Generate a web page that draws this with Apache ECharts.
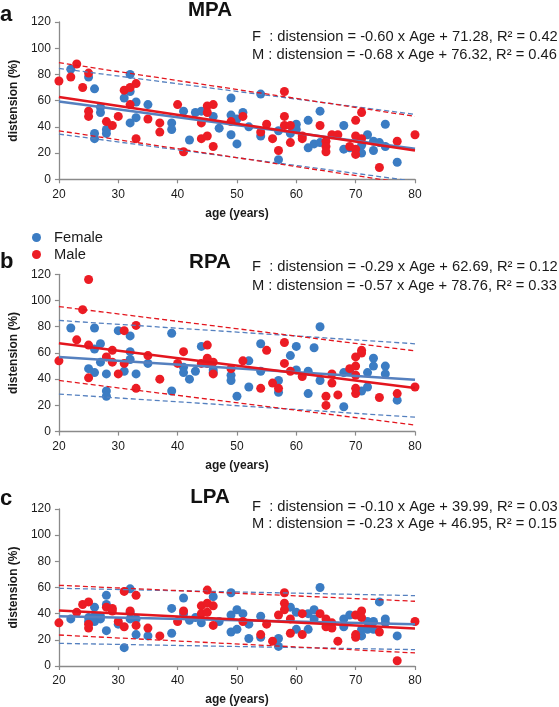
<!DOCTYPE html>
<html>
<head>
<meta charset="utf-8">
<script src="https://cdn.jsdelivr.net/npm/echarts@6/dist/echarts.min.js"></script>
<style>
html,body{margin:0;padding:0;background:#fff;}
#chart{width:559px;height:707px;}
</style>
</head>
<body>
<div id="chart"></div>
<script>
// ---------- DATA ----------
const fitAges = [20, 80];

const mpaFemale = [[22,84],[25,78],[26,69],[26,35],[26,31],[27,55],[27,51],[28,38],[28,35],[31,62],[32,80],[32,67],[32,43],[33,59],[33,47],[35,57],[39,43],[39,38],[41,52],[42,30],[43,51],[44,52],[46,48],[47,39],[49,62],[49,49],[49,34],[50,46],[50,27],[51,51],[52,40],[54,65],[54,33],[57,37],[57,15],[59,35],[60,42],[60,38],[62,45],[62,24],[63,27],[64,52],[64,28],[68,41],[68,23],[69,24],[71,26],[71,20],[72,34],[73,29],[73,22],[74,28],[75,42],[75,25],[77,13]];
const mpaMale = [[20,75],[22,78],[23,88],[24,70],[25,81],[25,52],[25,48],[28,44],[29,41],[30,48],[31,68],[32,70],[33,73],[32,57],[33,31],[35,46],[37,43],[37,36],[40,57],[41,21],[44,43],[44,31],[45,56],[45,51],[45,33],[46,57],[46,25],[49,44],[51,48],[54,36],[55,42],[56,31],[57,22],[58,67],[58,48],[58,41],[59,41],[59,28],[61,33],[61,31],[64,41],[65,29],[65,25],[65,21],[66,34],[67,34],[69,25],[70,45],[70,33],[70,23],[70,19],[71,51],[71,31],[74,9],[77,29],[80,34]];
const mpaFitF = [59.3, 23.3];
const mpaFitM = [62.7, 21.9];
const mpaUpperF = [84.6, 49.5];
const mpaLowerF = [34.5, -1.5];
const mpaUpperM = [89, 48];
const mpaLowerM = [37, -4];

const rpaFemale = [[22,79],[25,48],[26,79],[26,63],[26,45],[27,67],[27,53],[28,44],[28,31],[28,27],[30,77],[31,46],[32,73],[32,61],[32,55],[33,44],[35,52],[39,75],[39,31],[41,49],[41,45],[42,40],[43,46],[44,65],[46,47],[46,45],[49,43],[49,39],[50,27],[52,54],[52,34],[54,67],[54,46],[57,39],[57,30],[59,58],[60,65],[60,47],[62,46],[62,29],[63,64],[64,80],[64,39],[68,45],[68,19],[69,46],[71,31],[72,45],[72,34],[73,56],[73,50],[75,50],[75,44],[77,24]];
const rpaMale = [[20,54],[23,70],[24,93],[25,116],[25,66],[25,41],[28,57],[29,62],[29,53],[30,44],[31,77],[31,52],[33,81],[33,33],[35,58],[37,40],[40,52],[41,61],[44,52],[45,66],[45,56],[45,52],[46,53],[46,44],[49,48],[51,54],[54,33],[55,62],[56,37],[57,33],[58,68],[58,52],[59,46],[61,42],[65,27],[65,20],[66,44],[66,37],[67,28],[69,48],[70,57],[70,50],[70,43],[70,33],[70,29],[71,62],[71,60],[74,26],[77,29],[80,34]];
const rpaFitF = [56.9, 39.5];
const rpaFitM = [67.4, 33.2];
const rpaUpperF = [84.8, 67];
const rpaLowerF = [28.6, 11];
const rpaUpperM = [95.4, 61.6];
const rpaLowerM = [39, 5];

const lpaFemale = [[22,36],[25,37],[25,34],[26,38],[26,34],[26,45],[27,36],[27,38],[28,54],[28,47],[28,27],[30,32],[31,14],[32,59],[32,41],[32,36],[33,24],[33,36],[35,23],[39,44],[39,25],[41,52],[41,40],[42,35],[43,37],[44,33],[46,53],[47,34],[49,56],[49,39],[49,26],[50,43],[50,28],[51,40],[52,32],[52,21],[54,38],[54,22],[57,15],[57,21],[59,45],[60,41],[60,28],[62,40],[62,28],[63,43],[63,36],[64,60],[68,36],[68,30],[69,39],[71,28],[71,23],[72,34],[72,28],[73,34],[73,28],[74,49],[75,36],[75,33],[77,23]];
const lpaMale = [[20,33],[23,41],[24,47],[25,49],[25,32],[25,29],[28,45],[29,44],[29,42],[30,34],[31,57],[31,30],[32,42],[33,54],[33,31],[35,29],[37,23],[40,34],[41,42],[44,46],[44,40],[45,58],[45,48],[45,41],[46,46],[46,31],[51,34],[54,24],[55,32],[56,19],[57,39],[58,56],[58,48],[58,43],[59,36],[59,25],[61,40],[61,24],[64,40],[65,36],[65,30],[66,33],[66,29],[67,19],[70,39],[70,24],[70,22],[71,42],[71,37],[74,26],[77,4],[80,34]];
const lpaFitF = [38.0, 32.0];
const lpaFitM = [42.4, 28.6];
const lpaUpperF = [59.4, 53.8];
const lpaLowerF = [17.3, 12.5];
const lpaUpperM = [61.7, 49.5];
const lpaLowerM = [23.7, 10];

const panelLetters = ['a', 'b', 'c'];
const panelTitles = ['MPA', 'RPA', 'LPA'];
const eqF = [
  'F  : distension = -0.60 x Age + 71.28, R\u00B2 = 0.42',
  'F  : distension = -0.29 x Age + 62.69, R\u00B2 = 0.12',
  'F  : distension = -0.10 x Age + 39.99, R\u00B2 = 0.03'
];
const eqM = [
  'M : distension = -0.68 x Age + 76.32, R\u00B2 = 0.46',
  'M : distension = -0.57 x Age + 78.76, R\u00B2 = 0.33',
  'M : distension = -0.23 x Age + 46.95, R\u00B2 = 0.15'
];
const legendNames = ['Female', 'Male'];
const xAxisName = 'age (years)';
const yAxisName = 'distension (%)';

// ---------- LAYOUT / STYLE ----------
const FONT = "'Liberation Sans', Arial, Helvetica, sans-serif";
const BLUE = '#3b7cc3';
const RED = '#ec1c24';
const BLUE_LINE = '#5580bf';
const RED_LINE = '#e3161e';
const AXIS = '#8a8a8a';

const gridTops = [22, 274.3, 509];
const gridH = 157.3;
const titleY = [10, 262.5, 497.5];
const letterY = [15.5, 263, 500];
const eqY = [[36.7, 55], [267.3, 285.7], [506.7, 524.3]];

const panels = [
  {F: mpaFemale, M: mpaMale, fitF: mpaFitF, fitM: mpaFitM, uF: mpaUpperF, lF: mpaLowerF, uM: mpaUpperM, lM: mpaLowerM},
  {F: rpaFemale, M: rpaMale, fitF: rpaFitF, fitM: rpaFitM, uF: rpaUpperF, lF: rpaLowerF, uM: rpaUpperM, lM: rpaLowerM},
  {F: lpaFemale, M: lpaMale, fitF: lpaFitF, fitM: lpaFitM, uF: lpaUpperF, lF: lpaLowerF, uM: lpaUpperM, lM: lpaLowerM}
];

const grids = [], xAxes = [], yAxes = [], series = [], graphics = [];
const toPts = arr => fitAges.map((a, j) => [a, arr[j]]);

panels.forEach((p, i) => {
  grids.push({left: 53.3, top: gridTops[i], width: 361.7, height: gridH, containLabel: false});
  xAxes.push({
    type: 'value', gridIndex: i, min: 20, max: 80, interval: 10,
    axisLine: {show: true, onZero: false, lineStyle: {color: AXIS, width: 1.3}},
    axisTick: {show: true, length: 4, lineStyle: {color: AXIS, width: 1.2}},
    axisLabel: {fontSize: 12, color: '#1a1a1a', margin: 9, fontFamily: FONT},
    splitLine: {show: false},
    name: xAxisName, nameLocation: 'middle', nameGap: 28,
    nameTextStyle: {fontSize: 12, fontWeight: 'bold', color: '#1a1a1a', fontFamily: FONT}
  });
  yAxes.push({
    type: 'value', gridIndex: i, min: 0, max: 120, interval: 20,
    axisLine: {show: true, lineStyle: {color: AXIS, width: 1.3}},
    axisTick: {show: true, length: 4, lineStyle: {color: AXIS, width: 1.2}},
    axisLabel: {fontSize: 12, color: '#1a1a1a', margin: 8, fontFamily: FONT},
    splitLine: {show: false},
    name: yAxisName, nameLocation: 'middle', nameGap: 34,
    nameTextStyle: {fontSize: 12, fontWeight: 'bold', color: '#1a1a1a', fontFamily: FONT}
  });
  const dashed = (name, arr, color) => ({
    name, type: 'line', xAxisIndex: i, yAxisIndex: i, data: toPts(arr),
    symbol: 'none', silent: true, z: 4, clip: true,
    lineStyle: {color, width: 1.3, type: [5, 3]}
  });
  series.push(
    {name: legendNames[0], type: 'scatter', xAxisIndex: i, yAxisIndex: i, data: p.F,
     symbolSize: 9, itemStyle: {color: BLUE, opacity: 1}, z: 2},
    {name: legendNames[1], type: 'scatter', xAxisIndex: i, yAxisIndex: i, data: p.M,
     symbolSize: 9, itemStyle: {color: RED, opacity: 1}, z: 3},
    dashed('F upper ' + i, p.uF, BLUE_LINE),
    dashed('F lower ' + i, p.lF, BLUE_LINE),
    dashed('M upper ' + i, p.uM, RED_LINE),
    dashed('M lower ' + i, p.lM, RED_LINE),
    {name: 'F fit ' + i, type: 'line', xAxisIndex: i, yAxisIndex: i, data: toPts(p.fitF),
     symbol: 'none', silent: true, z: 5, lineStyle: {color: BLUE_LINE, width: 2.5}},
    {name: 'M fit ' + i, type: 'line', xAxisIndex: i, yAxisIndex: i, data: toPts(p.fitM),
     symbol: 'none', silent: true, z: 6, lineStyle: {color: RED_LINE, width: 2.5}}
  );
  graphics.push(
    {type: 'text', left: 0, top: letterY[i] - 12, style: {text: panelLetters[i], font: 'bold 22px ' + FONT, fill: '#111'}},
    {type: 'text', x: 210, y: titleY[i], style: {text: panelTitles[i], font: 'bold 20.5px ' + FONT, fill: '#111', align: 'center', verticalAlign: 'middle'}},
    {type: 'text', x: 252, y: eqY[i][0], style: {text: eqF[i], font: '14.7px ' + FONT, fill: '#1a1a1a', align: 'left', verticalAlign: 'middle'}},
    {type: 'text', x: 252, y: eqY[i][1], style: {text: eqM[i], font: '14.7px ' + FONT, fill: '#1a1a1a', align: 'left', verticalAlign: 'middle'}}
  );
});

const chart = echarts.init(document.getElementById('chart'), null, {renderer: 'canvas'});
chart.setOption({
  animation: false,
  backgroundColor: '#ffffff',
  textStyle: {fontFamily: FONT},
  legend: {
    data: legendNames, orient: 'vertical', left: 27, top: 224,
    icon: 'circle', itemWidth: 9, itemHeight: 9, itemGap: 0,
    textStyle: {fontSize: 14.7, color: '#1a1a1a', lineHeight: 17, padding: [0, 0, 0, 8], fontFamily: FONT},
    selectedMode: false
  },
  grid: grids,
  xAxis: xAxes,
  yAxis: yAxes,
  series: series,
  graphic: graphics
});
</script>
</body>
</html>
